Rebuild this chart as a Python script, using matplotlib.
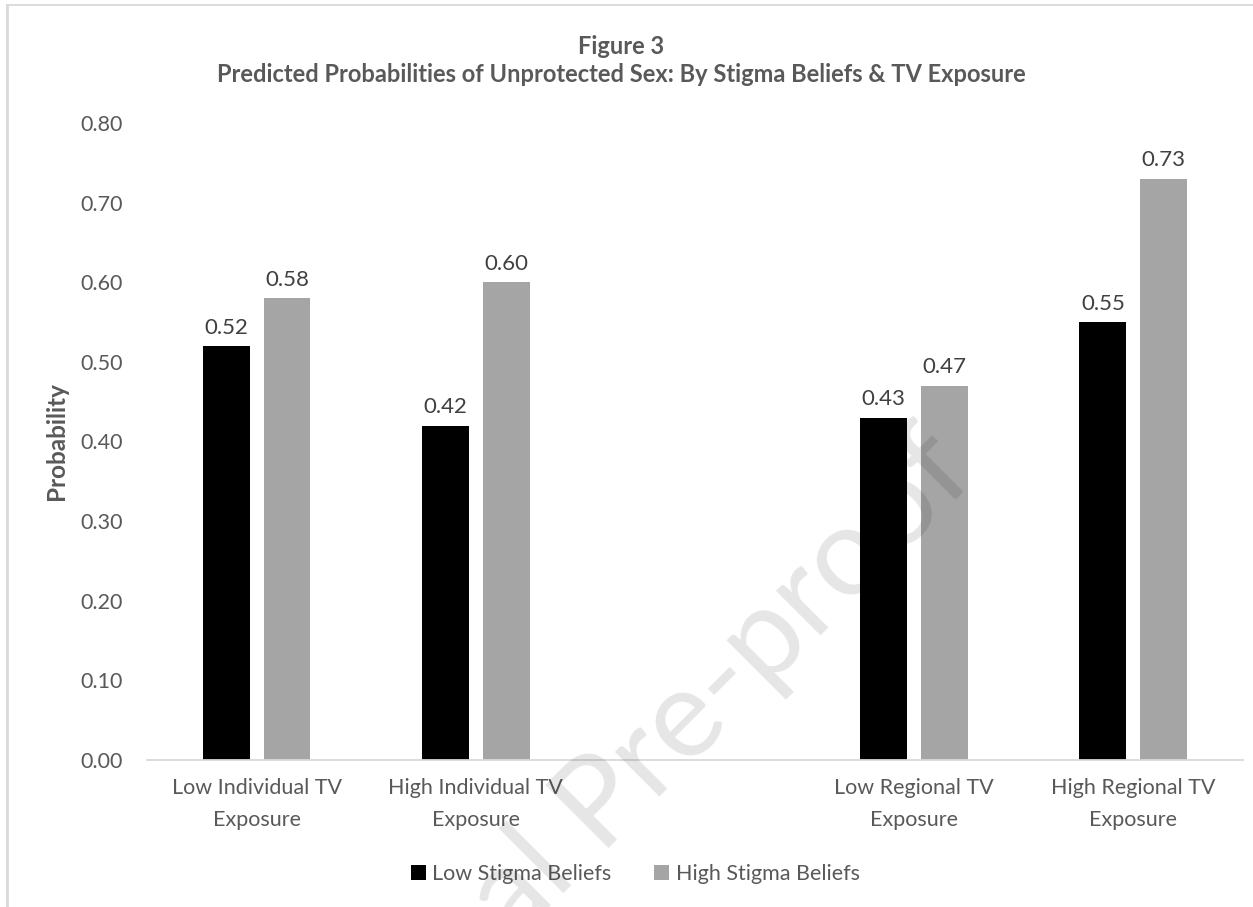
import numpy as np
import matplotlib.pyplot as plt
from matplotlib.lines import Line2D
from matplotlib.patches import Patch

plt.rcParams['font.family'] = ['Lato', 'DejaVu Sans']

# categories (empty slot separates individual and regional exposure)
categories = ["Low Individual TV\nExposure", "High Individual TV\nExposure", "",
              "Low Regional TV\nExposure", "High Regional TV\nExposure"]
low_stigma = [0.52, 0.42, np.nan, 0.43, 0.55]
high_stigma = [0.58, 0.60, np.nan, 0.47, 0.73]
series_names = ["Low Stigma Beliefs", "High Stigma Beliefs"]
y_ticks = [0.0, 0.1, 0.2, 0.3, 0.4, 0.5, 0.6, 0.7, 0.8]

text_gray = "#595959"
label_gray = "#404040"
bar_colors = ["#000000", "#a5a5a5"]

figure = plt.figure(figsize=(12.53, 9.07), dpi=100)
axes = figure.add_axes([0.1173, 0.1621, 0.8747, 0.7023])

x = np.arange(len(categories))
width = 0.214
offset = 0.139

for values, shift, color in zip([low_stigma, high_stigma], [-offset, offset], bar_colors):
    axes.bar(x + shift, values, width=width, color=color, zorder=2)
    for xi, v in zip(x + shift, values):
        if np.isnan(v):
            continue
        axes.annotate("{:.2f}".format(v), (xi, v), xytext=(0, 6), textcoords="offset points",
                      ha="center", va="bottom", fontsize=16, color=label_gray)

axes.set_xlim(-0.5, len(categories) - 0.5)
axes.set_ylim(0, 0.8)
axes.set_yticks(y_ticks)
axes.set_yticklabels(["{:.2f}".format(t) for t in y_ticks])
axes.set_xticks(x)
axes.set_xticklabels(categories, linespacing=1.75)

axes.tick_params(axis="both", length=0, labelsize=15.5, labelcolor=text_gray)
axes.tick_params(axis="y", pad=17.5)
axes.tick_params(axis="x", pad=13)

for side in ["top", "right", "left"]:
    axes.spines[side].set_visible(False)
axes.spines["bottom"].set_color("#d9d9d9")
axes.spines["bottom"].set_linewidth(1.3)

axes.set_ylabel("Probability", fontsize=17.5, fontweight="bold", color=text_gray, labelpad=9)

figure.text(0.496, 1 - 47 / 907, "Figure 3", ha="center", va="center",
            fontsize=17, fontweight="bold", color=text_gray)
figure.text(0.496, 1 - 75 / 907, "Predicted Probabilities of Unprotected Sex: By Stigma Beliefs & TV Exposure",
            ha="center", va="center", fontsize=17, fontweight="bold", color=text_gray)

handles = [Patch(facecolor=c, edgecolor="none") for c in bar_colors]
figure.legend(handles, series_names, loc="center", bbox_to_anchor=(0.507, 1 - 874 / 907),
              ncol=2, frameon=False, fontsize=15.5, labelcolor=text_gray,
              handlelength=0.7, handleheight=0.7, handletextpad=0.3, columnspacing=2.0)

# chart frame (left and top edges)
figure.add_artist(Line2D([7 / 1253, 7 / 1253], [0, 1 - 5 / 907], transform=figure.transFigure,
                         color="#d9d9d9", linewidth=2))
figure.add_artist(Line2D([7 / 1253, 1], [1 - 5 / 907, 1 - 5 / 907], transform=figure.transFigure,
                         color="#d9d9d9", linewidth=1.3))

# watermark
figure.text(612 / 1253, 1 - 795 / 907, "Journal Pre-proof", rotation=45, rotation_mode="anchor",
            ha="center", va="center", fontsize=90, color="black", alpha=0.1, zorder=10)

figure.savefig("out.png", dpi=100)
